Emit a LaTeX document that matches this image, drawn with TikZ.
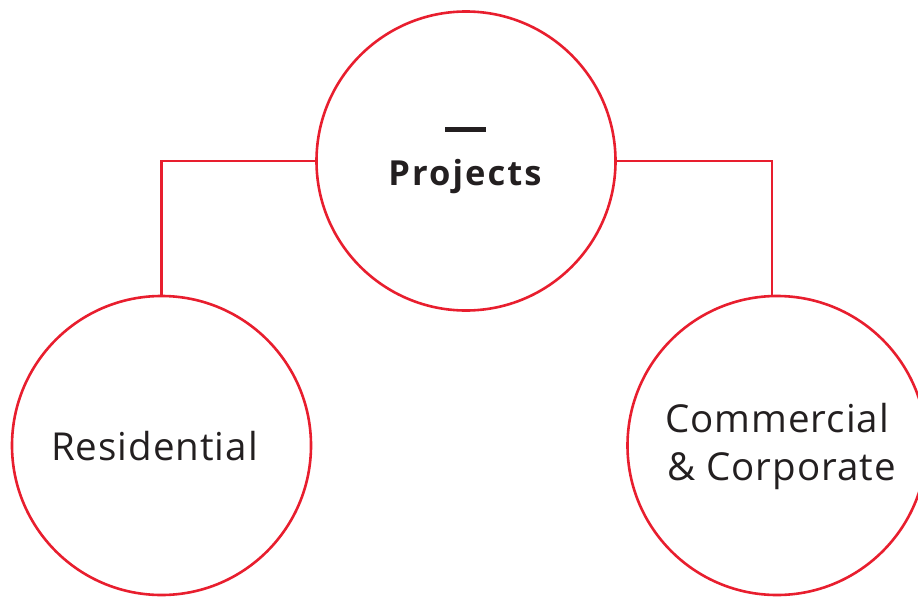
\documentclass[tikz,border=0pt]{standalone}
\usepackage{fontspec}
\setmainfont{Open Sans}
\definecolor{abbred}{RGB}{232,30,46}
\definecolor{txt}{RGB}{35,31,32}
\begin{document}
\begin{tikzpicture}[x=1pt,y=-1pt,
  ring/.style={circle,draw=abbred,line width=2.6pt,minimum size=299pt,inner sep=0pt},
  link/.style={draw=abbred,line width=2.2pt},
  lbl/.style={text=txt,inner sep=0pt,font=\fontsize{38.5}{48}\selectfont\addfontfeature{LetterSpace=2.6}},
  hdr/.style={text=txt,inner sep=0pt,font=\fontsize{34.5}{40}\selectfont\bfseries\addfontfeature{LetterSpace=6}}]
\useasboundingbox (0,0) rectangle (918,597);
\clip (0,0) rectangle (918,597);
\node[ring] (top) at (466,161) {};
\node[ring] (left) at (161.5,445.5) {};
\node[ring] (right) at (777,445.5) {};
\draw[link] (top.west) -| (left.north);
\draw[link] (top.east) -| (right.92.3);
\node[fill=txt,minimum width=41pt,minimum height=5pt,inner sep=0pt] (dash) at (465.5,129.5) {};
\node[hdr,anchor=base] (proj) at (465,185) {Projects};
\node[lbl,anchor=base] (res) at (154.5,460) {Residential};
\node[lbl,anchor=base west] (com) at (665,432.7) {Commercial};
\node[lbl,anchor=base west] (corp) at (667,480.7) {\& Corporate};
\end{tikzpicture}
\end{document}
